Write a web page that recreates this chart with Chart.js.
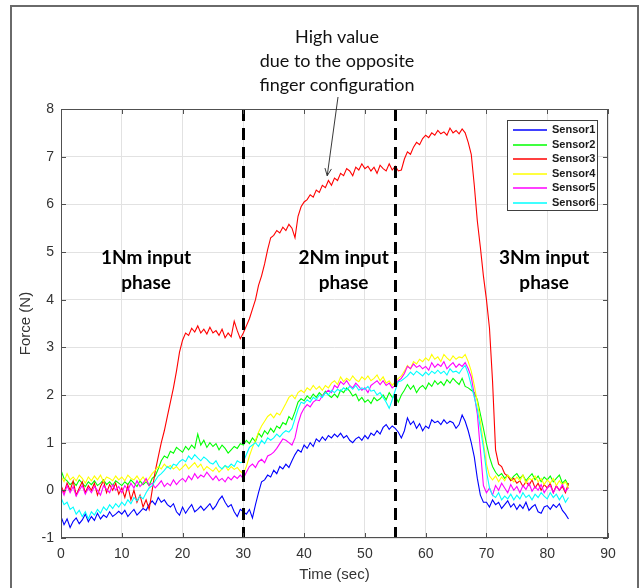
<!DOCTYPE html>
<html>
<head>
<meta charset="utf-8">
<script src="https://cdn.jsdelivr.net/npm/chart.js@4.4.1/dist/chart.umd.min.js"></script>
<style>
  html,body{margin:0;padding:0;background:#fff;}
  #wrap{position:relative;width:642px;height:588px;overflow:hidden;}
  #frame{position:absolute;left:10px;top:5px;width:629px;height:640px;border:2px solid #6a6a6a;box-sizing:border-box;pointer-events:none;}
  canvas{position:absolute;left:0;top:0;}
</style>
</head>
<body>
<div id="wrap">
<canvas id="c" width="642" height="588"></canvas>
<div id="frame"></div>
</div>
<script>
// ---- data ----
const TIME = [
0,0.5,1,1.5,2,2.5,3,3.5,4,4.5,
5,5.5,6,6.5,7,7.5,8,8.5,9,9.5,
10,10.5,11,11.5,12,12.5,13,13.5,14,14.5,
15,15.5,16,16.5,17,17.5,18,18.5,19,19.5,
20,20.5,21,21.5,22,22.5,23,23.5,24,24.5,
25,25.5,26,26.5,27,27.5,28,28.5,29,29.5,
30,30.5,31,31.5,32,32.5,33,33.5,34,34.5,
35,35.5,36,36.5,37,37.5,38,38.5,39,39.5,
40,40.5,41,41.5,42,42.5,43,43.5,44,44.5,
45,45.5,46,46.5,47,47.5,48,48.5,49,49.5,
50,50.5,51,51.5,52,52.5,53,53.5,54,54.5,
55,55.5,56,56.5,57,57.5,58,58.5,59,59.5,
60,60.5,61,61.5,62,62.5,63,63.5,64,64.5,
65,65.5,66,66.5,67,67.5,68,68.5,69,69.5,
70,70.5,71,71.5,72,72.5,73,73.5,74,74.5,
75,75.5,76,76.5,77,77.5,78,78.5,79,79.5,
80,80.5,81,81.5,82,82.5,83,83.5];

const SENSOR1 = [
-0.55,-0.72,-0.6,-0.78,-0.65,-0.58,-0.7,-0.62,-0.5,-0.66,
-0.55,-0.63,-0.48,-0.6,-0.52,-0.57,-0.45,-0.55,-0.5,-0.44,
-0.5,-0.42,-0.55,-0.47,-0.4,-0.52,-0.45,-0.38,-0.42,-0.3,
-0.22,-0.3,-0.15,-0.25,-0.2,-0.3,-0.35,-0.28,-0.45,-0.52,
-0.35,-0.48,-0.38,-0.3,-0.45,-0.4,-0.33,-0.42,-0.35,-0.28,
-0.4,-0.32,-0.2,-0.12,-0.25,-0.35,-0.3,-0.45,-0.55,-0.4,
-0.45,-0.5,-0.4,-0.58,-0.3,-0.05,0.18,0.22,0.32,0.28,
0.42,0.35,0.5,0.45,0.55,0.48,0.62,0.75,0.85,0.8,
0.95,0.88,1.0,0.92,1.08,1.02,1.12,1.05,1.15,1.1,
1.18,1.12,1.2,1.1,1.15,1.05,1.0,1.08,1.12,1.05,
1.15,1.08,1.2,1.15,1.25,1.18,1.32,1.38,1.28,1.35,
1.3,1.22,1.1,1.25,1.52,1.38,1.45,1.3,1.4,1.25,
1.35,1.3,1.48,1.42,1.45,1.38,1.48,1.4,1.45,1.42,
1.3,1.38,1.58,1.45,1.25,1.0,0.7,0.25,-0.1,-0.25,
-0.25,-0.35,-0.2,-0.3,-0.25,-0.38,-0.3,-0.22,-0.35,-0.28,
-0.4,-0.3,-0.38,-0.25,-0.42,-0.35,-0.3,-0.45,-0.48,-0.35,
-0.32,-0.4,-0.3,-0.36,-0.28,-0.42,-0.5,-0.6];

const SENSOR2 = [
0.42,0.25,0.2,0.12,0.18,0.1,0.22,0.15,0.08,0.18,
0.12,0.2,0.1,0.15,0.22,0.12,0.18,0.1,0.2,0.15,
0.1,0.18,0.12,0.22,0.15,0.08,0.2,0.12,0.18,0.1,
0.25,0.3,0.45,0.62,0.72,0.68,0.82,0.78,0.9,0.85,
0.8,0.92,0.85,0.95,0.88,1.18,0.95,1.05,0.9,1.0,
0.92,0.98,0.85,0.95,0.88,0.78,0.85,0.92,0.88,0.98,
0.95,1.05,0.98,1.1,1.02,1.2,1.12,1.25,1.18,1.3,
1.22,1.35,1.3,1.42,1.38,1.55,1.48,1.65,1.85,1.92,
1.88,1.98,1.92,2.02,1.95,2.05,1.98,2.08,2.0,1.95,
2.02,1.95,2.1,2.05,2.15,2.08,1.98,2.02,1.88,1.95,
1.85,1.9,1.82,1.95,1.88,1.92,2.0,1.9,2.05,1.95,
1.98,1.85,2.0,2.1,2.22,2.12,2.2,2.05,2.15,2.2,
2.12,2.25,2.18,2.3,2.22,2.28,2.2,2.32,2.25,2.35,
2.28,2.22,2.35,2.18,2.15,2.1,2.05,1.9,1.6,1.3,
0.98,0.7,0.5,0.38,0.3,0.35,0.25,0.32,0.22,0.3,
0.35,0.25,0.32,0.2,0.28,0.35,0.22,0.3,0.18,0.28,
0.22,0.3,0.18,0.25,0.32,0.15,0.22,0.1];

const SENSOR3 = [
0.1,-0.05,0.15,0.0,0.2,-0.1,0.05,0.18,-0.05,0.1,
0.0,0.15,-0.1,0.08,0.2,-0.05,0.12,0.0,0.15,-0.08,
0.05,-0.15,0.1,-0.2,0.0,-0.25,-0.1,-0.35,-0.2,-0.4,
0.0,0.4,0.7,1.0,1.25,1.55,1.85,2.15,2.5,2.9,
3.15,3.3,3.25,3.4,3.32,3.45,3.3,3.38,3.28,3.42,
3.3,3.35,3.25,3.38,3.2,3.3,3.22,3.55,3.35,3.18,
3.3,3.45,3.6,3.8,4.0,4.3,4.5,4.75,5.05,5.3,
5.35,5.45,5.4,5.52,5.45,5.58,5.5,5.3,5.75,5.95,
6.05,6.1,6.2,6.15,6.3,6.25,6.4,6.35,6.5,6.4,
6.55,6.5,6.65,6.6,6.75,6.7,6.6,6.78,6.72,6.85,
6.75,6.8,6.7,6.78,6.65,6.82,6.75,6.7,6.85,6.72,
6.8,6.7,6.72,6.95,7.1,7.05,7.2,7.3,7.25,7.38,
7.45,7.4,7.5,7.45,7.55,7.48,7.52,7.45,7.6,7.5,
7.55,7.48,7.58,7.5,7.3,7.05,6.4,5.65,5.1,4.5,
4.0,3.4,2.3,0.85,0.55,0.5,0.35,0.3,0.2,0.25,
0.15,0.2,0.08,0.18,0.1,0.22,0.05,0.15,0.0,0.12,
0.05,0.15,-0.05,0.1,0.0,0.08,-0.05,0.15];

const SENSOR4 = [
0.3,0.18,0.35,0.22,0.28,0.2,0.32,0.25,0.15,0.28,
0.2,0.3,0.22,0.32,0.18,0.28,0.25,0.2,0.3,0.22,
0.28,0.2,0.32,0.25,0.22,0.3,0.2,0.28,0.18,0.25,
0.35,0.42,0.5,0.45,0.55,0.48,0.52,0.45,0.5,0.42,
0.48,0.55,0.45,0.52,0.58,0.48,0.55,0.42,0.5,0.45,
0.4,0.48,0.38,0.45,0.52,0.42,0.5,0.44,0.48,0.4,
0.35,0.5,0.72,0.9,1.05,1.22,1.35,1.45,1.55,1.6,
1.52,1.62,1.58,1.7,1.82,1.95,2.0,1.92,2.05,2.1,
2.05,2.15,2.1,2.2,2.12,2.18,2.1,2.2,2.15,2.25,
2.3,2.22,2.38,2.28,2.35,2.3,2.4,2.32,2.28,2.38,
2.32,2.4,2.3,2.35,2.42,2.3,2.38,2.25,2.3,2.2,
2.28,2.35,2.4,2.5,2.62,2.55,2.7,2.65,2.75,2.7,
2.78,2.72,2.85,2.75,2.8,2.7,2.85,2.78,2.72,2.82,
2.75,2.8,2.78,2.85,2.7,2.5,2.2,1.85,1.45,1.0,
0.55,0.3,0.22,0.3,0.18,0.28,0.2,0.32,0.25,0.18,
0.28,0.2,0.32,0.15,0.25,0.22,0.3,0.18,0.25,0.12,
0.22,0.15,0.25,0.1,0.2,0.12,0.18,0.05];

const SENSOR5 = [
0.05,-0.1,0.1,-0.05,0.08,-0.12,0.0,0.1,-0.08,0.05,
-0.05,0.08,0.0,-0.1,0.1,0.02,-0.05,0.12,0.0,0.08,
-0.05,0.1,0.0,0.15,0.05,0.2,0.08,0.15,0.25,0.1,
0.15,0.05,0.12,0.2,0.08,0.15,0.1,0.22,0.12,0.2,
0.25,0.18,0.3,0.22,0.35,0.25,0.32,0.28,0.38,0.3,
0.22,0.3,0.2,0.25,0.18,0.28,0.22,0.3,0.25,0.32,
0.25,0.38,0.5,0.55,0.48,0.6,0.65,0.58,0.72,0.75,
0.8,0.88,0.98,1.08,1.05,1.0,0.95,1.1,1.4,1.6,
1.72,1.8,1.75,1.85,1.9,1.88,1.98,2.05,2.1,2.05,
2.2,2.15,2.28,2.22,2.3,2.2,2.15,2.25,2.18,2.1,
2.15,2.05,2.2,2.25,2.3,2.22,2.3,2.2,2.25,2.15,
2.2,2.3,2.35,2.45,2.6,2.55,2.65,2.58,2.62,2.55,
2.6,2.52,2.68,2.58,2.65,2.6,2.7,2.55,2.62,2.68,
2.58,2.65,2.6,2.68,2.55,2.38,2.0,1.6,0.85,0.1,
-0.05,0.05,-0.1,0.1,0.0,0.15,0.05,-0.05,0.12,0.0,
0.08,-0.05,0.1,0.02,0.15,-0.02,0.08,0.0,0.12,-0.05,
0.05,0.1,-0.05,0.08,0.0,0.12,-0.02,0.05];

const SENSOR6 = [
-0.15,-0.3,-0.25,-0.4,-0.35,-0.5,-0.42,-0.55,-0.45,-0.6,
-0.45,-0.52,-0.4,-0.48,-0.35,-0.42,-0.3,-0.38,-0.28,-0.35,
-0.25,-0.32,-0.2,-0.28,-0.15,-0.22,-0.12,-0.18,-0.05,0.05,
0.1,0.2,0.3,0.35,0.42,0.5,0.45,0.55,0.52,0.6,
0.65,0.6,0.72,0.65,0.75,0.68,0.62,0.7,0.65,0.58,
0.55,0.62,0.5,0.45,0.52,0.48,0.55,0.5,0.62,0.58,
0.6,0.75,0.9,0.95,1.0,0.92,1.05,0.98,1.1,1.05,
1.1,1.18,1.12,1.2,1.25,1.22,1.3,1.5,1.7,1.85,
1.82,1.9,1.85,1.95,1.9,2.0,1.95,2.05,2.0,2.1,
2.05,2.12,2.08,2.15,2.1,2.18,2.12,2.2,2.1,2.15,
2.12,2.18,2.08,2.1,2.0,2.05,1.95,1.85,1.72,1.9,
2.1,2.28,2.3,2.35,2.4,2.48,2.42,2.5,2.45,2.4,
2.48,2.42,2.5,2.45,2.52,2.45,2.5,2.42,2.55,2.48,
2.5,2.45,2.55,2.62,2.45,2.2,1.95,1.7,1.3,0.9,
0.4,0.05,-0.1,-0.15,-0.05,-0.2,-0.12,-0.18,-0.08,-0.2,
-0.1,-0.18,-0.05,-0.15,-0.1,-0.2,-0.08,-0.15,-0.05,-0.12,
-0.18,-0.05,-0.15,-0.08,-0.2,-0.1,-0.25,-0.15];

const SERIES_NAMES = ['Sensor1','Sensor2','Sensor3','Sensor4','Sensor5','Sensor6'];
const SERIES_VALUES = [SENSOR1, SENSOR2, SENSOR3, SENSOR4, SENSOR5, SENSOR6];
const SERIES_COLORS = ['#0000ff','#00ff00','#ff0000','#ffff00','#ff00ff','#00ffff'];
const X_TICKS = [0,10,20,30,40,50,60,70,80,90];
const Y_TICKS = [-1,0,1,2,3,4,5,6,7,8];
const PHASE_BOUNDS = [30, 55];
const PHASE_LABELS = [
  {x: 14, lines: ['1Nm input','phase']},
  {x: 46.5, lines: ['2Nm input','phase']},
  {x: 79.5, lines: ['3Nm input','phase']}
];
const NOTE_LINES = ['High value','due to the opposite','finger configuration'];
const NOTE_TARGET = {x: 43.8, y: 6.6};

// ---- chart ----
const datasets = SERIES_NAMES.map((name, i) => ({
  label: name,
  data: TIME.map((t, k) => ({x: t, y: SERIES_VALUES[i][k]})),
  borderColor: SERIES_COLORS[i],
  backgroundColor: SERIES_COLORS[i],
  borderWidth: 1.1,
  pointRadius: 0,
  tension: 0,
  fill: false,
  order: SERIES_NAMES.length - i
}));

const overlay = {
  id: 'overlay',
  afterDatasetsDraw(chart) {
    const {ctx, chartArea: ca, scales: {x, y}} = chart;
    ctx.save();
    ctx.strokeStyle = '#000';
    ctx.lineWidth = 3;
    ctx.setLineDash([12, 7]);
    PHASE_BOUNDS.forEach(v => {
      const px = Math.round(x.getPixelForValue(v)) + 0.5;
      ctx.beginPath(); ctx.moveTo(px, ca.top); ctx.lineTo(px, ca.bottom); ctx.stroke();
    });
    ctx.setLineDash([]);
    ctx.strokeStyle = '#505050';
    ctx.lineWidth = 1;
    ctx.strokeRect(ca.left + 0.5, ca.top + 0.5, ca.right - ca.left - 1, ca.bottom - ca.top - 1);
    ctx.beginPath();
    X_TICKS.forEach(v => {
      const px = Math.round(x.getPixelForValue(v)) + 0.5;
      ctx.moveTo(px, ca.bottom); ctx.lineTo(px, ca.bottom - 5);
      ctx.moveTo(px, ca.top); ctx.lineTo(px, ca.top + 5);
    });
    Y_TICKS.forEach(v => {
      const py = Math.round(y.getPixelForValue(v)) + 0.5;
      ctx.moveTo(ca.left, py); ctx.lineTo(ca.left + 5, py);
      ctx.moveTo(ca.right, py); ctx.lineTo(ca.right - 5, py);
    });
    ctx.stroke();
    ctx.restore();
  },
  afterDraw(chart) {
    const {ctx, chartArea: ca, scales: {x, y}} = chart;
    ctx.save();
    // legend
    const bx = Math.round(ca.right - 101), by = Math.round(ca.top + 11), bw = 90, bh = 90;
    ctx.fillStyle = '#fff';
    ctx.fillRect(bx, by, bw, bh);
    ctx.strokeStyle = '#404040';
    ctx.lineWidth = 1;
    ctx.strokeRect(bx + 0.5, by + 0.5, bw, bh);
    ctx.font = 'bold 11px "Liberation Sans", Arial, sans-serif';
    ctx.textBaseline = 'middle';
    ctx.textAlign = 'left';
    chart.data.datasets.forEach((ds, i) => {
      const ly = Math.round(by + 10 + i * 14.6);
      ctx.strokeStyle = ds.borderColor;
      ctx.lineWidth = 1.6;
      ctx.beginPath(); ctx.moveTo(bx + 6, ly); ctx.lineTo(bx + 40, ly); ctx.stroke();
      ctx.fillStyle = '#1a1a1a';
      ctx.fillText(ds.label, bx + 45, ly);
    });
    // phase labels
    ctx.fillStyle = '#000';
    ctx.textAlign = 'center';
    ctx.font = 'bold 19px Lato, "Open Sans", sans-serif';
    PHASE_LABELS.forEach(p => {
      const px = x.getPixelForValue(p.x);
      p.lines.forEach((t, k) => ctx.fillText(t, px, 258 + k * 25));
    });
    // note
    ctx.font = '18px Lato, "Open Sans", sans-serif';
    ctx.fillStyle = '#111';
    NOTE_LINES.forEach((t, k) => ctx.fillText(t, 337, 37 + k * 24));
    // arrow
    const tx = x.getPixelForValue(NOTE_TARGET.x), ty = y.getPixelForValue(NOTE_TARGET.y);
    const sx = 338, sy = 97;
    ctx.strokeStyle = '#222';
    ctx.lineWidth = 0.9;
    ctx.beginPath(); ctx.moveTo(sx, sy); ctx.lineTo(tx, ty); ctx.stroke();
    const ang = Math.atan2(ty - sy, tx - sx);
    const hl = 8, ha = 0.42;
    ctx.beginPath();
    ctx.moveTo(tx - hl * Math.cos(ang - ha), ty - hl * Math.sin(ang - ha));
    ctx.lineTo(tx, ty);
    ctx.lineTo(tx - hl * Math.cos(ang + ha), ty - hl * Math.sin(ang + ha));
    ctx.stroke();
    ctx.restore();
  }
};

new Chart(document.getElementById('c'), {
  type: 'line',
  data: {datasets},
  options: {
    responsive: false,
    animation: false,
    devicePixelRatio: 1,
    layout: {padding: {left: 0, right: 34, top: 109, bottom: 0}},
    plugins: {legend: {display: false}, tooltip: {enabled: false}},
    scales: {
      x: {
        type: 'linear', min: 0, max: 90,
        afterBuildTicks: s => { s.ticks = X_TICKS.map(v => ({value: v})); },
        afterFit: s => { s.height = 50; },
        grid: {color: '#e2e2e2', drawTicks: false, lineWidth: 1},
        border: {display: false},
        ticks: {padding: 8, color: '#333', font: {family: '"Liberation Sans", Arial, sans-serif', size: 14}, maxRotation: 0},
        title: {display: true, text: 'Time (sec)', color: '#333', font: {family: '"Liberation Sans", Arial, sans-serif', size: 15}, padding: {top: 0, bottom: 4}}
      },
      y: {
        type: 'linear', min: -1, max: 8,
        afterBuildTicks: s => { s.ticks = Y_TICKS.map(v => ({value: v})); },
        afterFit: s => { s.width = 61; },
        grid: {color: '#e2e2e2', drawTicks: false, lineWidth: 1},
        border: {display: false},
        ticks: {padding: 7, color: '#333', font: {family: '"Liberation Sans", Arial, sans-serif', size: 14}},
        title: {display: true, text: 'Force (N)', color: '#333', font: {family: '"Liberation Sans", Arial, sans-serif', size: 15}, padding: {top: 17, bottom: 0}}
      }
    }
  },
  plugins: [overlay]
});
</script>
</body>
</html>
